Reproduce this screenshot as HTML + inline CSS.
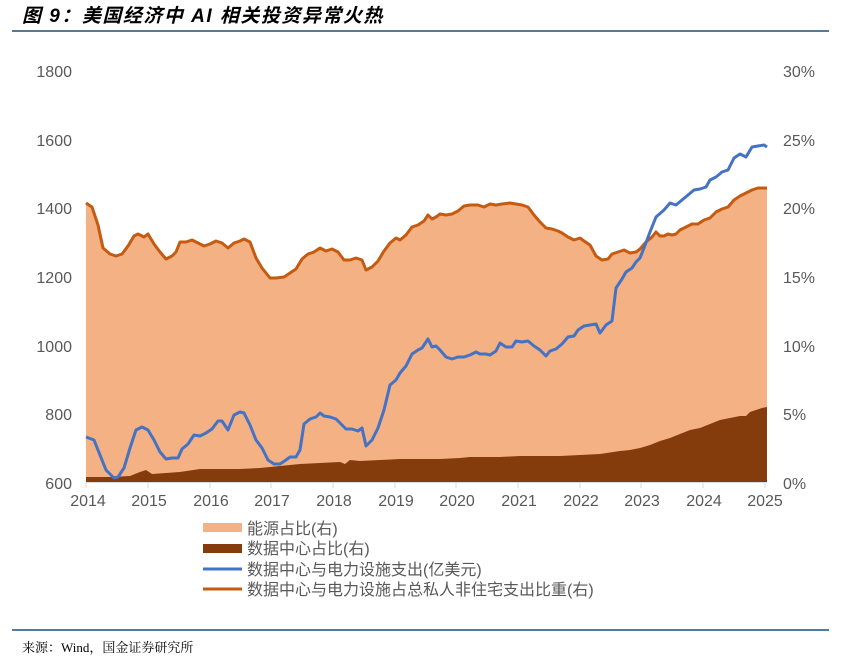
<!DOCTYPE html><html><head><meta charset="utf-8"><style>
body{margin:0;background:#fff;width:841px;height:662px;overflow:hidden;font-family:"Liberation Sans","Noto Sans CJK SC",sans-serif}
</style></head><body>
<svg width="841" height="662" xmlns="http://www.w3.org/2000/svg" font-family="Liberation Sans, Noto Sans CJK SC, sans-serif">
<text x="22" y="22" font-size="19" font-weight="bold" font-style="italic" fill="#000" letter-spacing="1.5" font-family="Liberation Sans, Noto Sans CJK SC, sans-serif">图 9：美国经济中 AI 相关投资异常火热</text>
<line x1="12" y1="31" x2="829" y2="31" stroke="#1f4e79" stroke-width="1.5"/>
<polygon fill="#f4b183" points="86,482 86,203 92,207 98,225 103,248 110,254 116,256 122,254 128,246 134,236 138,234 144,237 148,234 154,244 160,252 166,259 172,256 176,252 180,242 186,242 192,240 198,243 204,246 210,244 216,241 222,243 228,248 234,243 240,241 244,239 250,242 256,258 262,268 266,273 270,278 276,278 284,277 290,273 296,269 302,259 308,254 314,252 320,248 326,251 332,249 338,252 344,260 350,260 356,258 362,260 366,270 372,267 378,261 384,251 390,243 396,238 400,240 406,235 412,227 418,225 424,221 428,215 432,219 436,217 440,214 446,215 452,214 458,211 464,206 470,205 478,205 484,207 490,204 496,205 502,204 510,203 516,204 522,205 528,207 534,215 540,222 546,228 552,229 558,231 562,233 568,237 574,240 580,238 584,241 590,245 596,256 602,260 608,259 612,254 618,252 624,250 630,253 636,252 640,249 646,242 652,237 656,232 660,236 664,236 668,234 672,235 676,234 680,230 686,227 692,224 698,224 704,220 710,218 716,212 722,209 728,207 734,200 740,196 746,193 752,190 758,188 764,188 767,188 767,482"/>
<polygon fill="#843c0c" points="86,482 86,477 110,477 130,476 140,472 146,470 152,474 180,472 200,469 220,469 240,469 260,468 280,466 300,464 320,463 340,462 345,464 350,460 360,461 380,460 400,459 420,459 440,459 460,458 470,457 480,457 500,457 520,456 540,456 560,456 580,455 600,454 620,451 630,450 640,448 650,445 660,441 670,438 680,434 690,430 700,428 710,424 720,420 730,418 740,416 746,416 750,412 756,410 762,408 767,407 767,482"/>
<polyline fill="none" stroke="#c55a11" stroke-width="3" stroke-linejoin="round" points="86,203 92,207 98,225 103,248 110,254 116,256 122,254 128,246 134,236 138,234 144,237 148,234 154,244 160,252 166,259 172,256 176,252 180,242 186,242 192,240 198,243 204,246 210,244 216,241 222,243 228,248 234,243 240,241 244,239 250,242 256,258 262,268 266,273 270,278 276,278 284,277 290,273 296,269 302,259 308,254 314,252 320,248 326,251 332,249 338,252 344,260 350,260 356,258 362,260 366,270 372,267 378,261 384,251 390,243 396,238 400,240 406,235 412,227 418,225 424,221 428,215 432,219 436,217 440,214 446,215 452,214 458,211 464,206 470,205 478,205 484,207 490,204 496,205 502,204 510,203 516,204 522,205 528,207 534,215 540,222 546,228 552,229 558,231 562,233 568,237 574,240 580,238 584,241 590,245 596,256 602,260 608,259 612,254 618,252 624,250 630,253 636,252 640,249 646,242 652,237 656,232 660,236 664,236 668,234 672,235 676,234 680,230 686,227 692,224 698,224 704,220 710,218 716,212 722,209 728,207 734,200 740,196 746,193 752,190 758,188 764,188 767,188"/>
<polyline fill="none" stroke="#4472c4" stroke-width="3" stroke-linejoin="round" points="86,437 94,440 100,455 106,470 114,478 118,477 124,468 130,448 136,430 142,427 148,430 154,440 160,452 166,459 172,458 178,458 182,449 188,444 194,435 200,436 206,433 212,429 218,421 222,421 228,430 234,415 240,412 244,413 250,425 256,440 262,448 268,460 274,464 280,464 286,460 290,457 296,457 300,450 304,424 310,419 316,417 320,413 324,416 330,417 336,419 340,423 346,429 352,429 358,431 362,428 366,446 372,440 378,428 384,410 390,385 396,380 400,373 406,366 412,354 418,350 422,348 428,339 432,347 436,346 440,350 446,357 452,359 458,357 464,357 470,355 476,352 480,354 486,354 490,355 496,351 500,343 506,347 512,347 516,341 522,342 528,341 534,346 540,350 546,356 550,351 556,349 562,344 568,337 574,336 578,330 584,326 590,325 596,324 600,333 606,325 612,321 616,288 622,279 626,272 632,268 636,262 640,258 644,248 650,232 656,217 664,210 670,203 676,205 682,200 688,195 694,190 700,189 706,187 710,180 716,177 722,172 728,170 734,158 740,154 746,157 752,147 758,146 764,145 767,147"/>
<line x1="86" y1="482.5" x2="767" y2="482.5" stroke="#d9d9d9" stroke-width="1"/>
<g stroke="#d9d9d9"><line x1="86" y1="482" x2="86" y2="488"/><line x1="148" y1="482" x2="148" y2="488"/><line x1="210" y1="482" x2="210" y2="488"/><line x1="271" y1="482" x2="271" y2="488"/><line x1="333" y1="482" x2="333" y2="488"/><line x1="395" y1="482" x2="395" y2="488"/><line x1="456" y1="482" x2="456" y2="488"/><line x1="518" y1="482" x2="518" y2="488"/><line x1="580" y1="482" x2="580" y2="488"/><line x1="641" y1="482" x2="641" y2="488"/><line x1="703" y1="482" x2="703" y2="488"/><line x1="765" y1="482" x2="765" y2="488"/></g>
<g font-size="16" fill="#595959" text-anchor="end"><text x="72" y="77">1800</text><text x="72" y="146">1600</text><text x="72" y="214">1400</text><text x="72" y="283">1200</text><text x="72" y="352">1000</text><text x="72" y="420">800</text><text x="72" y="489">600</text></g>
<g font-size="16" fill="#595959"><text x="783" y="77">30%</text><text x="783" y="146">25%</text><text x="783" y="214">20%</text><text x="783" y="283">15%</text><text x="783" y="352">10%</text><text x="783" y="420">5%</text><text x="783" y="489">0%</text></g>
<g font-size="16" fill="#595959" text-anchor="middle"><text x="88" y="506">2014</text><text x="149" y="506">2015</text><text x="211" y="506">2016</text><text x="272" y="506">2017</text><text x="334" y="506">2018</text><text x="396" y="506">2019</text><text x="457" y="506">2020</text><text x="519" y="506">2021</text><text x="581" y="506">2022</text><text x="642" y="506">2023</text><text x="704" y="506">2024</text><text x="765" y="506">2025</text></g>
<rect x="203" y="523" width="39" height="9" fill="#f4b183"/>
<rect x="203" y="544" width="39" height="9" fill="#843c0c"/>
<line x1="203" y1="569" x2="242" y2="569" stroke="#4472c4" stroke-width="3"/>
<line x1="203" y1="589" x2="242" y2="589" stroke="#c55a11" stroke-width="3"/>
<g font-size="16" fill="#595959"><text x="247" y="534">能源占比(右)</text><text x="247" y="554">数据中心占比(右)</text><text x="247" y="575">数据中心与电力设施支出(亿美元)</text><text x="247" y="595">数据中心与电力设施占总私人非住宅支出比重(右)</text></g>
<line x1="12" y1="630" x2="829" y2="630" stroke="#1f4e79" stroke-width="1.5"/>
<text x="22" y="652" font-size="13" fill="#000" font-family="Liberation Serif, Noto Serif CJK SC, serif">来源：Wind，国金证券研究所</text>
</svg>
</body></html>
